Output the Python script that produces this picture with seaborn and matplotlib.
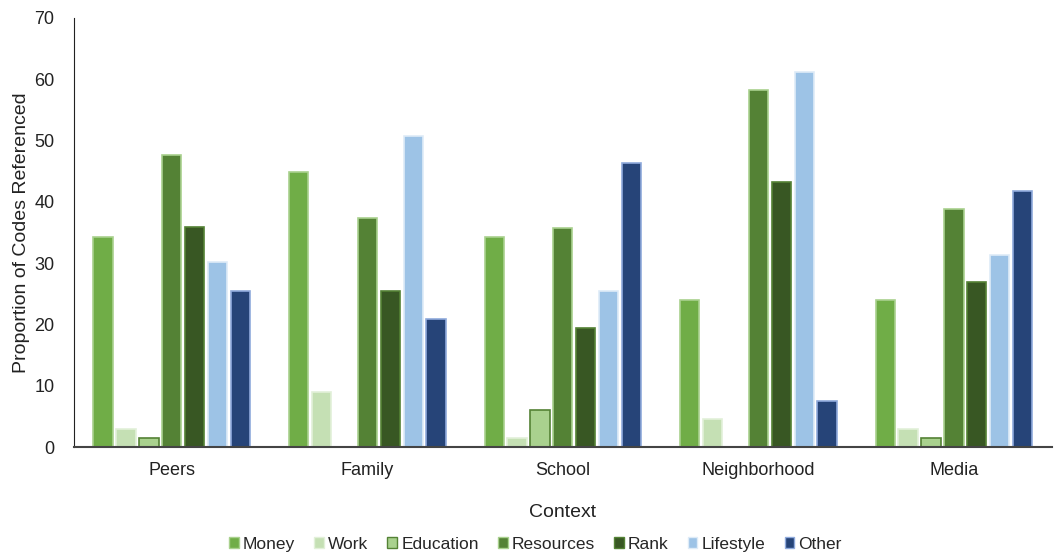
import pandas as pd
import numpy as np
import matplotlib.pyplot as plt
import seaborn as sns
from matplotlib.patches import Patch

# Data
contexts = ['Peers', 'Family', 'School', 'Neighborhood', 'Media']
codes = ['Money', 'Work', 'Education', 'Resources', 'Rank', 'Lifestyle', 'Other']

money = [34.3, 44.8, 34.3, 23.9, 23.9]
work = [2.9, 9.0, 1.5, 4.5, 3.0]
education = [1.5, 0.0, 6.0, 0.0, 1.5]
resources = [47.7, 37.3, 35.8, 58.2, 38.8]
rank = [35.9, 25.4, 19.4, 43.3, 26.9]
lifestyle = [30.1, 50.7, 25.4, 61.2, 31.3]
other = [25.5, 20.9, 46.3, 7.5, 41.8]

colors = ['#70AD47', '#C5E0B4', '#A9D18E', '#548235', '#385723', '#9DC3E6', '#264478']
edges = ['#A9D18E', '#E2F0D9', '#548235', '#A9D18E', '#548235', '#DEEBF7', '#8FAADC']


def build_frame():
    """Long-form table for seaborn."""
    series = [money, work, education, resources, rank, lifestyle, other]
    rows = []
    for code, vals in zip(codes, series):
        for ctx, v in zip(contexts, vals):
            rows.append({'Context': ctx, 'Code': code, 'Value': v})
    return pd.DataFrame(rows)


def main():
    df = build_frame()
    sns.set_style('white')
    plt.rcParams['font.family'] = ['Liberation Sans', 'DejaVu Sans']

    fig = plt.figure(figsize=(10.58, 5.56), dpi=100)
    ax = fig.add_axes([0.07, 0.196, 0.924, 0.772])

    sns.barplot(data=df, x='Context', y='Value', hue='Code', hue_order=codes,
                palette=colors, saturation=1, order=contexts, width=0.82, gap=0.16,
                legend=False, ax=ax)

    # bar outlines like the original
    for cont, ec in zip(ax.containers, edges):
        for bar in cont:
            if bar.get_height() > 0:
                bar.set_edgecolor(ec)
                bar.set_linewidth(1.2)
            else:
                bar.set_linewidth(0)

    ax.set_ylim(0, 70)
    ax.set_xlim(-0.5, 4.5)
    ax.set_yticks(range(0, 71, 10))
    ax.tick_params(axis='y', length=0, labelsize=13, colors='#222222', pad=14)
    ax.tick_params(axis='x', length=0, labelsize=13, colors='#222222', pad=11)
    ax.set_xlabel('Context', fontsize=14, color='#222222', labelpad=18)
    ax.set_ylabel('Proportion of Codes Referenced', fontsize=14, color='#222222', labelpad=3)

    sns.despine(ax=ax)
    ax.spines['left'].set_color('#222222')
    ax.spines['bottom'].set_color('#444444')
    ax.spines['bottom'].set_linewidth(1.5)

    handles = [Patch(facecolor=c, edgecolor=e, linewidth=1) for c, e in zip(colors, edges)]
    ax.legend(handles, codes, ncol=7, loc='center', bbox_to_anchor=(0.472, -0.226),
              frameon=False, fontsize=12.5, handlelength=0.55, handleheight=0.55,
              handletextpad=0.25, columnspacing=1.1)

    fig.savefig('out.png', dpi=100)


if __name__ == "__main__":
    main()
